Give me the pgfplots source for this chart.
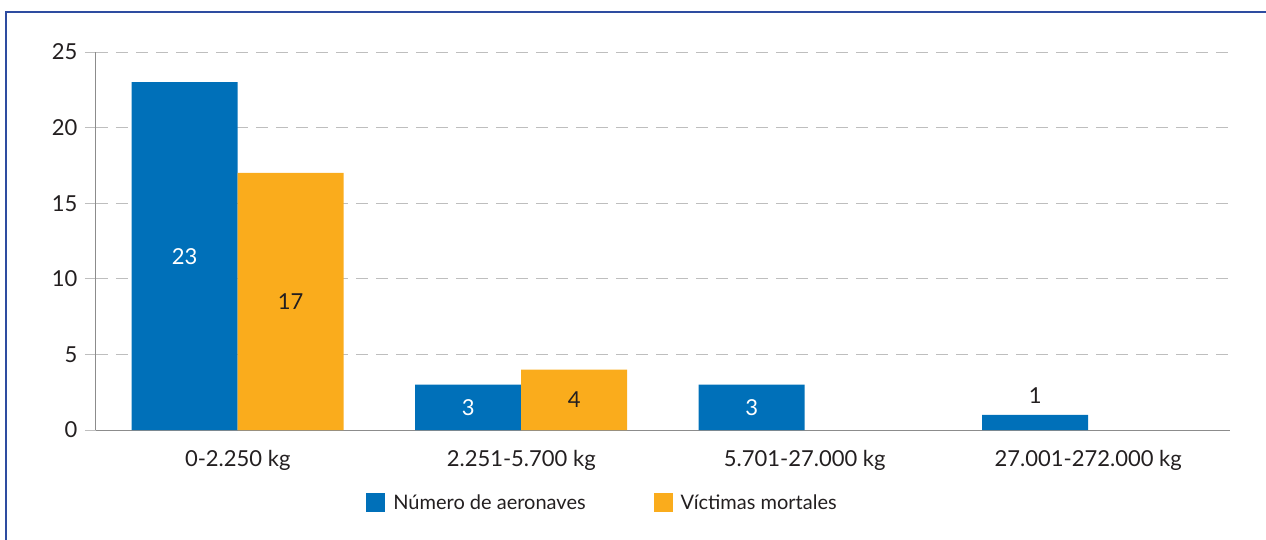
\documentclass[border=0pt]{standalone}
\usepackage{pgfplots}
\pgfplotsset{compat=1.18}
\usepackage{fontspec}
\setmainfont{Lato}
\definecolor{cblue}{RGB}{0,112,185}
\definecolor{corange}{RGB}{250,172,28}
\definecolor{frameblue}{RGB}{46,76,160}
\definecolor{gridgray}{RGB}{190,190,190}
\definecolor{axisgray}{RGB}{140,140,140}
\definecolor{txt}{RGB}{35,31,32}
\protected\def\darkone{\textcolor{txt}{1}}
\begin{document}
\begin{tikzpicture}[font=\fontsize{22}{26}\selectfont]
\begin{axis}[
  at={(0,0)}, anchor=south west,
  scale only axis, width=1134pt, height=378pt,
  xmin=-0.5, xmax=3.5, ymin=0, ymax=25,
  enlargelimits=false,
  ytick={0,5,...,25},
  xtick={0,1,2,3},
  xticklabels={0-2.250 kg, 2.251-5.700 kg, 5.701-27.000 kg, 27.001-272.000 kg},
  ymajorgrids,
  grid style={gridgray, dash pattern=on 12pt off 8pt, line width=1pt},
  axis x line*=bottom, axis y line*=left,
  axis line style={axisgray, line width=1pt, -},
  xtick style={draw=none},
  ytick style={gridgray, line width=1pt},
  tick align=outside, major tick length=11pt,
  ybar=0pt, bar width=106pt,
  tick label style={font=\fontsize{22}{26}\selectfont, text=txt},
  /pgf/number format/assume math mode=true,
  xticklabel style={yshift=-6pt},
  yticklabel style={xshift=-4pt},
  legend style={at={(rel axis cs:0.4467,-0.193)}, anchor=center, draw=none,
    font=\fontsize{20}{24}\selectfont, text=txt, legend columns=2,
    /tikz/every odd column/.append style={column sep=6pt},
    /tikz/every even column/.append style={column sep=66pt}},
  legend image code/.code={\fill[#1] (0pt,-9.5pt) rectangle (19pt,9.5pt);},
  nodes near coords,
  point meta=explicit symbolic,
  visualization depends on=rawy \as \rawy,
  every node near coord/.append style={anchor=center, font=\fontsize{22}{26}\selectfont,
    yshift={((\rawy<2)*19-(\rawy>=2)*7.56*\rawy)*1pt}},
]
\addplot[fill=cblue, draw=none, every node near coord/.append style={text=white}]
  coordinates {(0,23)[23] (1,3)[3] (2,3)[3] (3,1)[\darkone]};
\addlegendentry{Número de aeronaves}
\addplot[fill=corange, draw=none, every node near coord/.append style={text=txt}]
  coordinates {(0,17)[17] (1,4)[4]};
\addlegendentry{Víctimas mortales}
\end{axis}
\draw[frameblue, line width=2pt] (-89.5pt,-120pt) -- (-89.5pt,417.5pt) -- (1180pt,417.5pt);
\pgfresetboundingbox
\useasboundingbox (-96pt,-109pt) rectangle (1170pt,430pt);
\end{tikzpicture}
\end{document}
